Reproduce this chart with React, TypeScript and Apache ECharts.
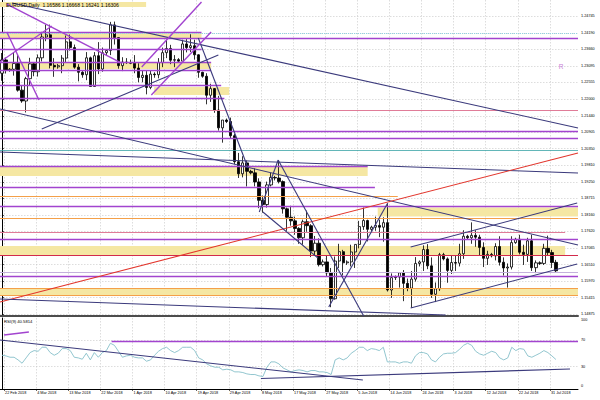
import { useEffect, useRef } from "react";
import * as echarts from "echarts";

// ---------- categories (daily bars, MT4 style: Sunday bars included, no Saturdays) ----------
const MONTH_NAMES = ["Jan", "Feb", "Mar", "Apr", "May", "Jun", "Jul", "Aug", "Sep", "Oct", "Nov", "Dec"];
const SLOT_COUNT = 144; // 139 bars + empty shift area on the right
function buildDates(): string[] {
  const out: string[] = [];
  const dt = new Date(Date.UTC(2018, 1, 22));
  while (out.length < SLOT_COUNT) {
    if (dt.getUTCDay() !== 6) out.push(`${dt.getUTCDate()} ${MONTH_NAMES[dt.getUTCMonth()]} ${dt.getUTCFullYear()}`);
    dt.setUTCDate(dt.getUTCDate() + 1);
  }
  return out;
}
const barDates = buildDates();
const dateTickBars = [0, 8, 16, 24, 32, 40, 48, 56, 64, 72, 80, 88, 96, 104, 112, 120, 128, 136];

// ---------- EURUSD daily candles [open, high, low, close] ----------
const febBars = [
  [1.2285, 1.2352, 1.226, 1.2329], [1.2329, 1.2337, 1.2284, 1.2295], [1.2295, 1.2302, 1.229, 1.2298],
  [1.2298, 1.2355, 1.2277, 1.2317], [1.2317, 1.2345, 1.2224, 1.2229], [1.2229, 1.2245, 1.2187, 1.2193],
];
const marBars = [
  [1.2193, 1.2273, 1.2155, 1.2267], [1.2267, 1.2336, 1.2246, 1.2316], [1.2316, 1.232, 1.2275, 1.229],
  [1.229, 1.2347, 1.2274, 1.2336], [1.2336, 1.2422, 1.2324, 1.2405], [1.2405, 1.2446, 1.2391, 1.2412],
  [1.2412, 1.2446, 1.2301, 1.2311], [1.2311, 1.2335, 1.2273, 1.2306], [1.2306, 1.2316, 1.23, 1.231],
  [1.231, 1.2345, 1.2285, 1.2335], [1.2335, 1.241, 1.232, 1.2389], [1.2389, 1.2413, 1.236, 1.237],
  [1.237, 1.238, 1.23, 1.2305], [1.2305, 1.2315, 1.2258, 1.2288], [1.2288, 1.2292, 1.227, 1.228],
  [1.228, 1.2355, 1.2262, 1.2336], [1.2336, 1.234, 1.224, 1.2241], [1.2241, 1.2355, 1.224, 1.2343],
  [1.2343, 1.2388, 1.2282, 1.2299], [1.2299, 1.237, 1.229, 1.2353], [1.2353, 1.2365, 1.2345, 1.236],
  [1.236, 1.2455, 1.2345, 1.2445], [1.2445, 1.2456, 1.238, 1.2403], [1.2403, 1.2405, 1.23, 1.231],
  [1.231, 1.2338, 1.2292, 1.2322], [1.2322, 1.2335, 1.2316, 1.232],
];
const aprBars = [
  [1.232, 1.233, 1.2315, 1.2318], [1.2318, 1.2345, 1.2285, 1.2302], [1.2302, 1.2318, 1.2255, 1.2271],
  [1.2271, 1.2294, 1.2255, 1.2278], [1.2278, 1.2292, 1.2215, 1.2238], [1.2238, 1.2295, 1.2232, 1.2282],
  [1.2282, 1.2288, 1.227, 1.228], [1.228, 1.2335, 1.2268, 1.232], [1.232, 1.237, 1.2305, 1.2353],
  [1.2353, 1.2396, 1.2335, 1.2367], [1.2367, 1.2379, 1.2315, 1.2328], [1.2328, 1.2345, 1.2305, 1.233],
  [1.233, 1.2335, 1.232, 1.2325], [1.2325, 1.2396, 1.2325, 1.2382], [1.2382, 1.2398, 1.2354, 1.237],
  [1.237, 1.2414, 1.2355, 1.2376], [1.2376, 1.2396, 1.233, 1.2346], [1.2346, 1.2348, 1.227, 1.2288],
  [1.2288, 1.229, 1.227, 1.2275], [1.2275, 1.2285, 1.2182, 1.2212], [1.2212, 1.225, 1.219, 1.2234],
  [1.2234, 1.2236, 1.2154, 1.2163], [1.2163, 1.221, 1.2095, 1.2104], [1.2104, 1.213, 1.2055, 1.213],
  [1.213, 1.2135, 1.212, 1.2125], [1.2125, 1.2138, 1.207, 1.2078],
];
const mayBars = [
  [1.2078, 1.2084, 1.1984, 1.1992], [1.1992, 1.2021, 1.1938, 1.1952], [1.1952, 1.201, 1.194, 1.1988],
  [1.1988, 1.1996, 1.191, 1.196], [1.196, 1.1965, 1.195, 1.1955], [1.1955, 1.197, 1.191, 1.1925],
  [1.1925, 1.1937, 1.1838, 1.1864], [1.1864, 1.188, 1.1823, 1.185], [1.185, 1.1926, 1.184, 1.1915],
  [1.1915, 1.1955, 1.191, 1.194], [1.194, 1.1945, 1.193, 1.1938], [1.1938, 1.1997, 1.192, 1.1926],
  [1.1926, 1.193, 1.182, 1.1836], [1.1836, 1.184, 1.1763, 1.1808], [1.1808, 1.1846, 1.178, 1.1796],
  [1.1796, 1.181, 1.175, 1.1771], [1.1771, 1.1775, 1.172, 1.174], [1.174, 1.18, 1.1717, 1.1793],
  [1.1793, 1.183, 1.176, 1.178], [1.178, 1.1785, 1.1676, 1.1696], [1.1696, 1.1746, 1.168, 1.1722],
  [1.1722, 1.1738, 1.1645, 1.1651], [1.1651, 1.1668, 1.1645, 1.166], [1.166, 1.168, 1.161, 1.1624],
  [1.1624, 1.164, 1.151, 1.1538], [1.1538, 1.1678, 1.1535, 1.1663], [1.1663, 1.172, 1.164, 1.1694],
];
const junBars = [
  [1.1694, 1.17, 1.1615, 1.1657], [1.1657, 1.1665, 1.165, 1.166], [1.166, 1.1717, 1.1645, 1.1693],
  [1.1693, 1.1718, 1.164, 1.1718], [1.1718, 1.1796, 1.1705, 1.1777], [1.1777, 1.184, 1.1766, 1.1797],
  [1.1797, 1.18, 1.1728, 1.1768], [1.1768, 1.178, 1.1762, 1.1775], [1.1775, 1.181, 1.1763, 1.1781],
  [1.1781, 1.18, 1.1742, 1.1775], [1.1775, 1.1808, 1.1727, 1.179], [1.179, 1.1852, 1.1562, 1.1567],
  [1.1567, 1.1622, 1.1541, 1.1608], [1.1608, 1.1615, 1.16, 1.161], [1.161, 1.1626, 1.1575, 1.1624],
  [1.1624, 1.1633, 1.153, 1.1589], [1.1589, 1.1605, 1.1563, 1.1573], [1.1573, 1.163, 1.1508, 1.1603],
  [1.1603, 1.1676, 1.1595, 1.1655], [1.1655, 1.1665, 1.1645, 1.166], [1.166, 1.1715, 1.163, 1.1701],
  [1.1701, 1.1719, 1.1636, 1.1647], [1.1647, 1.1675, 1.1541, 1.1553], [1.1553, 1.1592, 1.1527, 1.1571],
  [1.1571, 1.169, 1.1564, 1.1684],
];
const julBars = [
  [1.1684, 1.169, 1.1665, 1.167], [1.167, 1.1675, 1.1591, 1.1632], [1.1632, 1.168, 1.162, 1.1658],
  [1.1658, 1.168, 1.163, 1.1656], [1.1656, 1.172, 1.1645, 1.1687], [1.1687, 1.1765, 1.167, 1.1745],
  [1.1745, 1.175, 1.1735, 1.174], [1.174, 1.1791, 1.172, 1.1748], [1.1748, 1.1765, 1.171, 1.1742],
  [1.1742, 1.175, 1.1682, 1.1708], [1.1708, 1.1725, 1.1643, 1.1672], [1.1672, 1.1697, 1.165, 1.1685],
  [1.1685, 1.169, 1.1675, 1.168], [1.168, 1.1722, 1.1665, 1.1711], [1.1711, 1.1745, 1.1648, 1.1659],
  [1.1659, 1.1675, 1.1615, 1.164], [1.164, 1.1655, 1.1575, 1.1643], [1.1643, 1.1745, 1.1635, 1.1724],
  [1.1724, 1.174, 1.172, 1.1735], [1.1735, 1.175, 1.1685, 1.1692], [1.1692, 1.1717, 1.165, 1.1685],
  [1.1685, 1.174, 1.166, 1.173], [1.173, 1.175, 1.163, 1.1641], [1.1641, 1.1665, 1.1623, 1.1657],
  [1.1657, 1.1662, 1.165, 1.1655], [1.1655, 1.172, 1.165, 1.1705], [1.1705, 1.1747, 1.168, 1.1691],
];
const augBars = [
  [1.1691, 1.17, 1.164, 1.1658], [1.16586, 1.16668, 1.16241, 1.16306],
];
const candles = [...febBars, ...marBars, ...aprBars, ...mayBars, ...junBars, ...julBars, ...augBars];

// ---------- RSI(9) values ----------
const rsiValues = [
  47, 46, 44, 44, 40, 35, 43, 51, 54, 53, 59, 59, 51, 47, 50, 57, 57, 54, 44, 43,
  41, 50, 40, 51, 44, 51, 54, 65, 62, 53, 44, 46, 47, 44, 43, 43, 38, 40, 47, 53,
  57, 59, 54, 51, 54, 59, 59, 59, 54, 43, 40, 34, 31, 29, 29, 25, 26, 25, 22, 22,
  21, 19, 18, 18, 16, 15, 29, 37, 37, 34, 28, 25, 22, 24, 25, 24, 22, 24, 24, 22,
  22, 21, 18, 40, 43, 40, 43, 50, 54, 59, 59, 54, 57, 56, 54, 59, 37, 37, 37, 35,
  37, 37, 35, 46, 51, 51, 49, 40, 37, 44, 49, 50, 50, 51, 56, 62, 65, 62, 53, 49,
  47, 50, 53, 51, 43, 40, 43, 59, 54, 57, 56, 46, 44, 47, 50, 54, 51, 46, 40.58,
];

// ---------- axis tick labels ----------
const priceTicks = [
  1.24745, 1.2419, 1.2366, 1.23095, 1.22555, 1.22, 1.2144, 1.20905, 1.2035, 1.1981,
  1.1925, 1.18715, 1.1816, 1.1762, 1.17065, 1.1651, 1.1597, 1.15415, 1.14875,
];
const rsiTicks = [0, 30, 70, 100];
const rsiLevels = [30, 70];
const lastPrice = 1.16306;
const headerText = "EURUSD,Daily  1.16586 1.16668 1.16241 1.16306";
const rsiText = "RSI(9) 40.5814";

// ---------- drawn objects (price, bar index) ----------
// horizontal levels: [price, fromBar, toBar, kind]
const levelLines: [number, number, number, string][] = [
  [1.24199, -0.5, 49.7, "purple"],
  [1.24006, -0.5, 143.5, "purple"],
  [1.24172, -0.5, 143.5, "cyan"],
  [1.23636, -0.5, 49.7, "purple"],
  [1.23222, -0.5, 52.1, "purple"],
  [1.2294, -0.5, 52.1, "purple"],
  [1.2246, -0.5, 54.6, "purple"],
  [1.22029, -0.5, 55.4, "purple"],
  [1.21632, -0.5, 143.5, "pink"],
  [1.2092, -0.5, 143.5, "purple"],
  [1.20688, -0.5, 143.5, "purple"],
  [1.2029, -0.5, 143.5, "teal"],
  [1.19777, -0.5, 91.1, "purple"],
  [1.19081, -0.5, 92.9, "purple"],
  [1.18783, -0.5, 98.6, "orange"],
  [1.18452, -0.5, 143.5, "purple"],
  [1.18045, -0.5, 143.5, "orange"],
  [1.17575, -0.5, 140.3, "pink"],
  [1.17349, -0.5, 143.5, "purple"],
  [1.16829, -0.5, 143.5, "crimson"],
  [1.16266, -0.5, 143.5, "lilac"],
  [1.16134, -0.5, 143.5, "purple"],
  [1.15736, -0.5, 143.5, "orange"],
  [1.15488, -0.5, 143.5, "orange"],
];
// fibonacci tags: [price, text, kind, above]
const fibTags: [number, string, string, boolean][] = [
  [1.21632, "61.8", "pink", true],
  [1.2029, "23.6", "teal", true],
  [1.17575, "38.2", "pink", false],
];
// zones: [priceTop, priceBottom, fromBar, toBar]
const zones: [number, number, number, number][] = [
  [1.25209, 1.25043, -0.5, 35.9],
  [1.24172, 1.24006, -0.5, 49.7],
  [1.23188, 1.2299, -0.5, 52.1],
  [1.22393, 1.22129, 37.9, 56.6],
  [1.19744, 1.19446, -0.5, 91.1],
  [1.18402, 1.18104, 93.6, 143.5],
  [1.17127, 1.16813, -0.5, 140.3],
  [1.15736, 1.15488, -0.5, 143.5],
];
// trend lines: [bar1, price1, bar2, price2, kind]
const trendLines: [number, number, number, number, string][] = [
  [2.5, 1.25176, 143.5, 1.21036, "navy"],
  [-0.5, 1.21665, 143.5, 1.17161, "navy"],
  [-0.5, 1.20241, 143.5, 1.19545, "navy"],
  [-0.5, 1.15273, 143.5, 1.20208, "red"],
  [-0.5, 1.15372, 110.5, 1.14842, "navy"],
  [9.9, 1.21002, 53.9, 1.23453, "navy"],
  [48.9, 1.24016, 61.3, 1.19711, "navy"],
  [1.2, 1.25142, 29.8, 1.23188, "purple"],
  [-0.5, 1.23222, 12.4, 1.24414, "purple"],
  [1.2, 1.24215, 9.2, 1.21963, "purple"],
  [37.2, 1.22129, 52.1, 1.24215, "purple"],
  [34.8, 1.23056, 49.7, 1.25209, "purple"],
  [68.8, 1.19976, 90.1, 1.14809, "navy"],
  [81.4, 1.15107, 96.1, 1.18552, "navy"],
  [64.1, 1.18254, 68.8, 1.19976, "navy"],
  [65.0, 1.18254, 78.7, 1.1673, "navy"],
  [101.8, 1.17094, 143.3, 1.18552, "navy"],
  [101.8, 1.15074, 143.3, 1.16531, "navy"],
];
// RSI pane lines: [bar1, rsi1, bar2, rsi2, kind]
const rsiLines: [number, number, number, number, string][] = [
  [0.5, 77.4, 6.7, 82.0, "purple"],
  [27.3, 67.4, 143.5, 67.4, "purple"],
  [-0.5, 70.0, 89.9, 9.8, "navy"],
  [64.5, 12.0, 141.5, 26.3, "navy"],
];
// text objects: [bar, price, text]
const textMarks: [number, number, string][] = [[139.3, 1.23089, "R"]];

// ---------- styles ----------
const FONT = "'Liberation Sans', Arial, sans-serif";
const COLORS: Record<string, string> = {
  purple: "#a244cf",
  navy: "#3b3a7c",
  red: "#e2352c",
  orange: "#f4a049",
  pink: "#e07c98",
  teal: "#3aa3a6",
  cyan: "#8fd3e3",
  lilac: "#c4b0dc",
  crimson: "#d22b4c",
};
const WIDTHS: Record<string, number> = {
  purple: 1.4, navy: 1.1, red: 1.1, orange: 1, pink: 1, teal: 0.8, cyan: 1, lilac: 1, crimson: 1.1,
};
const ZONE_COLOR = "#f5e7a3";
const GRID_LINE = { color: "#c6c6c6", type: [1.5, 1.5] as number[], width: 0.6 };
const X_MIN = -0.5;
const X_MAX = SLOT_COUNT - 0.5;
const P_MIN = 1.14809;
const P_MAX = 1.25275;

function segment(x1: number, y1: number, x2: number, y2: number, kind: string) {
  return [
    {
      coord: [x1, y1],
      lineStyle: { color: COLORS[kind], width: WIDTHS[kind], type: kind === "cyan" ? "dotted" : "solid" },
    },
    { coord: [x2, y2] },
  ];
}

function buildOption(): echarts.EChartsCoreOption {
  const gridBars = dateTickBars.map((b) => b + 0.5);
  const levelSegs = levelLines.map(([p, a, b, k]) => segment(a, p, b, p, k));
  const fibSegs = fibTags.map(([p, t, k, above]) => [
    {
      coord: [X_MAX - 3, p],
      lineStyle: { opacity: 0 },
      label: {
        show: true,
        formatter: t,
        position: above ? "insideEndTop" : "insideEndBottom",
        distance: 1,
        color: COLORS[k],
        fontSize: 3.8,
        fontFamily: FONT,
      },
    },
    { coord: [X_MAX - 0.5, p] },
  ]);
  const trendSegs = trendLines.map(([a, p1, b, p2, k]) => segment(a, p1, b, p2, k));
  const rsiSegs = rsiLines.map(([a, v1, b, v2, k]) => segment(a, v1, b, v2, k));

  const axisText = { fontSize: 3.8, color: "#000", fontFamily: FONT };

  return {
    animation: false,
    backgroundColor: "#ffffff",
    title: [
      { text: headerText, left: 6, top: 2, padding: 0, textStyle: { fontSize: 5, fontWeight: "normal", color: "#000", fontFamily: FONT } },
      { text: rsiText, left: 4, top: 319.5, padding: 0, textStyle: { fontSize: 4.2, fontWeight: "normal", color: "#000", fontFamily: FONT } },
    ],
    grid: [
      { left: -2, right: 22, top: 0, height: 316 },
      { left: -2, right: 22, top: 318, height: 71 },
    ],
    xAxis: [
      {
        type: "value", gridIndex: 0, min: X_MIN, max: X_MAX,
        axisLine: { show: true, onZero: false, lineStyle: { color: "#4d4d4d", width: 2 } },
        axisTick: { show: false, customValues: gridBars },
        axisLabel: { show: false },
        splitLine: { show: true, lineStyle: GRID_LINE },
      },
      {
        type: "value", gridIndex: 1, min: X_MIN, max: X_MAX,
        axisLine: { show: true, onZero: false, lineStyle: { color: "#000", width: 1 } },
        axisTick: { show: true, length: 2, customValues: gridBars, lineStyle: { color: "#000", width: 0.6 } },
        axisLabel: {
          ...axisText, customValues: gridBars, align: "left", margin: 2, padding: [0, 0, 0, 1],
          formatter: (v: number) => barDates[Math.round(v - 0.5)] ?? "",
        },
        splitLine: { show: true, lineStyle: GRID_LINE },
      },
    ],
    yAxis: [
      {
        type: "value", gridIndex: 0, position: "right", min: P_MIN, max: P_MAX,
        axisLine: { show: true, lineStyle: { color: "#000", width: 1 } },
        axisTick: { show: true, length: 2, customValues: priceTicks, lineStyle: { color: "#000", width: 0.6 } },
        axisLabel: { ...axisText, customValues: priceTicks, margin: 3, formatter: (v: number) => v.toFixed(5) },
        splitLine: { show: true, lineStyle: GRID_LINE },
      },
      {
        type: "value", gridIndex: 1, position: "right", min: -3.76, max: 103,
        axisLine: { show: true, lineStyle: { color: "#000", width: 1 } },
        axisTick: { show: true, length: 2, customValues: rsiLevels, lineStyle: { color: "#000", width: 0.6 } },
        axisLabel: { ...axisText, customValues: rsiTicks, margin: 3, formatter: (v: number) => String(v) },
        splitLine: { show: true, lineStyle: GRID_LINE },
      },
    ],
    series: [
      {
        type: "line", name: "zones", xAxisIndex: 0, yAxisIndex: 0, data: [], silent: true,
        markArea: {
          silent: true,
          data: zones.map(([p1, p2, a, b]) => [
            { coord: [a, p1], itemStyle: { color: ZONE_COLOR, opacity: 1 } },
            { coord: [b, p2] },
          ]),
        },
      },
      {
        type: "candlestick", name: "EURUSD", xAxisIndex: 0, yAxisIndex: 0,
        data: candles.map((c, i) => [i, c[0], c[3], c[2], c[1]]),
        encode: { x: 0, y: [1, 2, 3, 4] },
        barWidth: 2.8,
        itemStyle: { color: "#ffffff", color0: "#000000", borderColor: "#000000", borderColor0: "#000000", borderWidth: 0.8 },
        z: 3,
        markLine: {
          silent: true, symbol: ["none", "none"],
          lineStyle: { opacity: 0 },
          data: [
            {
              yAxis: lastPrice,
              label: {
                show: true, position: "end", distance: 2, formatter: lastPrice.toFixed(5),
                color: "#fff", backgroundColor: "#000", padding: [1, 1.5, 0.5, 1.5], fontSize: 3.8, fontFamily: FONT,
              },
            },
          ],
        },
        markPoint: {
          silent: true, symbol: "circle", symbolSize: 0,
          data: textMarks.map(([b, p, t]) => ({
            coord: [b, p],
            label: { show: true, formatter: t, color: "#c77fd6", fontSize: 6.5, fontFamily: FONT, position: "inside" },
          })),
        },
      },
      {
        type: "line", name: "drawings", xAxisIndex: 0, yAxisIndex: 0, data: [], silent: true,
        markLine: {
          silent: true, symbol: ["none", "none"], label: { show: false },
          data: [...levelSegs, ...trendSegs, ...fibSegs],
        },
      },
      {
        type: "line", name: "RSI(9)", xAxisIndex: 1, yAxisIndex: 1,
        data: rsiValues.map((v, i) => [i, v]),
        showSymbol: false, symbol: "none",
        lineStyle: { color: "#86bfca", width: 0.9 },
        markLine: {
          silent: true, symbol: ["none", "none"], label: { show: false },
          data: rsiSegs,
        },
      },
    ],
  };
}

export default function App() {
  const ref = useRef<HTMLDivElement>(null);
  useEffect(() => {
    if (!ref.current) return;
    const chart = echarts.init(ref.current, undefined, { renderer: "svg" });
    chart.setOption(buildOption());
    return () => chart.dispose();
  }, []);
  return <div ref={ref} style={{ position: "absolute", left: 0, top: 0, width: 600, height: 400 }} />;
}
